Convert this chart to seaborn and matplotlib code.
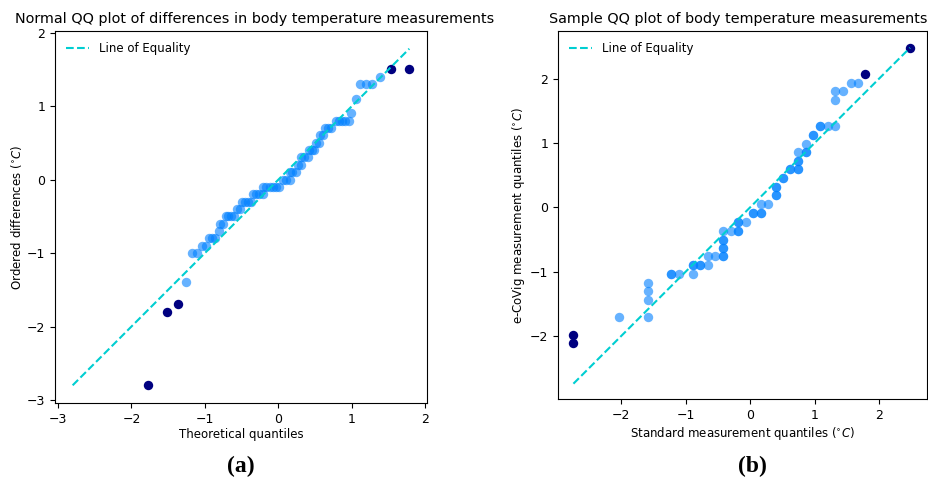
import numpy as np
import pandas as pd
import matplotlib
matplotlib.use("Agg")
import matplotlib.pyplot as plt
import seaborn as sns

# ---- (a) normal QQ plot of differences ----
left_x = [-1.26, -1.18, -1.11, -1.04, -0.99, -0.95, -0.90, -0.86, -0.81,
          -0.79, -0.75, -0.72, -0.69, -0.65, -0.61, -0.57, -0.53,
          -0.50, -0.46, -0.41, -0.37, -0.35, -0.30, -0.26, -0.21,
          -0.21, -0.17, -0.12, -0.08, -0.03, 0.01, 0.06, 0.10, 0.15,
          0.15, 0.19, 0.24, 0.26, 0.30, 0.31, 0.35, 0.40, 0.42, 0.46, 0.49,
          0.51, 0.55, 0.57, 0.61, 0.63, 0.68, 0.72, 0.78, 0.82, 0.87, 0.91,
          0.96, 0.99, 1.05, 1.11, 1.185, 1.275, 1.378]
left_y = [-1.4, -1.0, -1.0, -0.9, -0.9, -0.8, -0.8, -0.8, -0.7,
          -0.6, -0.6, -0.5, -0.5, -0.5, -0.5, -0.4, -0.4,
          -0.3, -0.3, -0.3, -0.3, -0.2, -0.2, -0.2, -0.2,
          -0.1, -0.1, -0.1, -0.1, -0.1, -0.1, 0.0, 0.0, 0.0,
          0.1, 0.1, 0.1, 0.2, 0.2, 0.3, 0.3, 0.3, 0.4, 0.4, 0.4,
          0.5, 0.5, 0.6, 0.6, 0.7, 0.7, 0.7, 0.8, 0.8, 0.8, 0.8,
          0.8, 0.9, 1.1, 1.3, 1.3, 1.3, 1.4]
left_out_x = [-1.77, -1.51, -1.37, 1.53, 1.78]
left_out_y = [-2.8, -1.8, -1.7, 1.5, 1.5]

# ---- (b) sample QQ plot, (x, y, how many points sit on top of each other) ----
right_x = [-2.04, -1.58, -1.58, -1.58, -1.58, -1.23, -1.11, -0.88, -0.88,
           -0.77, -0.65, -0.65, -0.54, -0.42, -0.42, -0.42, -0.42, -0.30,
           -0.18, -0.18, -0.07, 0.05, 0.17, 0.17, 0.28, 0.40, 0.40, 0.51,
           0.62, 0.75, 0.75, 0.75, 0.87, 0.87, 0.97, 1.09, 1.21, 1.32,
           1.32, 1.32, 1.44, 1.56, 1.67]
right_y = [-1.71, -1.71, -1.44, -1.30, -1.17, -1.03, -1.03, -1.03, -0.89,
           -0.89, -0.89, -0.76, -0.76, -0.76, -0.63, -0.50, -0.36, -0.36,
           -0.36, -0.22, -0.22, -0.08, -0.08, 0.05, 0.05, 0.19, 0.32, 0.45,
           0.59, 0.59, 0.72, 0.86, 0.86, 0.99, 1.13, 1.27, 1.27, 1.27,
           1.67, 1.81, 1.81, 1.94, 1.94]
right_n = [1, 1, 1, 1, 1, 2, 1, 1, 2,
           2, 1, 1, 1, 2, 2, 2, 1, 1,
           2, 2, 1, 2, 2, 1, 1, 2, 2, 2,
           2, 2, 2, 1, 2, 1, 2, 2, 1, 1,
           1, 1, 1, 1, 1]
right_out_x = [-2.74, -2.74, 1.78, 2.48]
right_out_y = [-2.11, -1.98, 2.07, 2.48]

point_color = "#0080ff"
out_color = "navy"
line_color = "darkturquoise"

plt.rcParams["font.size"] = 8.5
plt.rcParams["xtick.labelsize"] = 9
plt.rcParams["ytick.labelsize"] = 9
plt.rcParams["axes.labelpad"] = 2

fig = plt.figure(figsize=(9.29, 4.78), dpi=100)
ax1 = fig.add_axes([0.0592, 0.157, 0.4004, 0.778])
ax2 = fig.add_axes([0.6006, 0.165, 0.397, 0.770])


def qq_panel(ax, xs, ys, ox, oy, lims):
    sns.scatterplot(x=xs, y=ys, color=point_color, alpha=0.6, s=46,
                    linewidth=0, ax=ax, zorder=2)
    sns.scatterplot(x=ox, y=oy, color=out_color, s=46, linewidth=0,
                    ax=ax, zorder=3)
    allv = np.concatenate([xs, ys, ox, oy])
    lo, hi = allv.min(), allv.max()
    ax.plot([lo, hi], [lo, hi], "--", color=line_color, lw=1.5,
            label="Line of Equality", zorder=4)
    ax.set_xlim(lims)
    ax.set_ylim(lims)
    ax.legend(loc="upper left", frameon=False, fontsize=8.5)


qq_panel(ax1, np.array(left_x), np.array(left_y),
         np.array(left_out_x), np.array(left_out_y), (-3.04, 2.02))
ax1.set_title("Normal QQ plot of differences in body temperature measurements",
              fontsize=10.4, x=0.538)
ax1.set_xlabel("Theoretical quantiles")
ax1.set_ylabel(r"Ordered differences ($^{\circ}C$)")

rx = np.repeat(right_x, right_n)
ry = np.repeat(right_y, right_n)
qq_panel(ax2, rx, ry, np.array(right_out_x), np.array(right_out_y),
         (-2.98, 2.74))
ax2.set_title("Sample QQ plot of body temperature measurements",
              fontsize=10.4, x=0.488)
ax2.set_xlabel(r"Standard measurement quantiles ($^{\circ}C$)")
ax2.set_ylabel(r"e-CoVig measurement quantiles ($^{\circ}C$)")
ax2.set_xticks([-2, -1, 0, 1, 2])
ax2.set_yticks([-2, -1, 0, 1, 2])

fig.text(0.259, 0.012, "(a)", family="Liberation Serif", fontweight="bold",
         fontsize=17, ha="center")
fig.text(0.81, 0.012, "(b)", family="Liberation Serif", fontweight="bold",
         fontsize=17, ha="center")

fig.savefig("out.png", dpi=100)
